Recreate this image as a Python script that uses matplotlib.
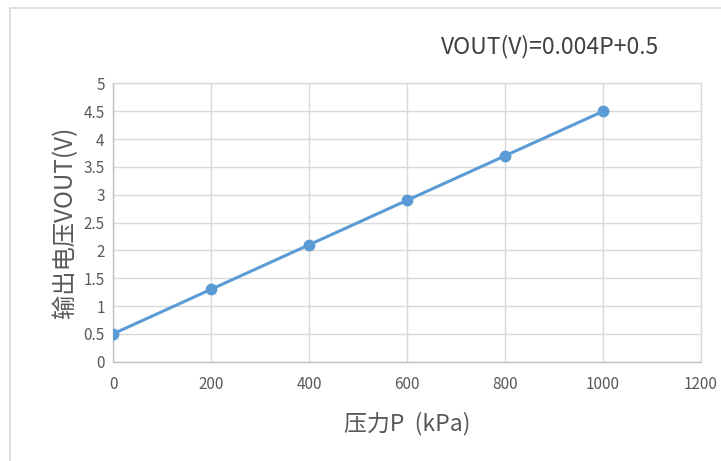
import matplotlib
matplotlib.use("Agg")
import matplotlib.pyplot as plt
from matplotlib.patches import Rectangle

plt.rcParams['font.family'] = ['Noto Sans CJK SC', 'DejaVu Sans']

# data
pressure = [0, 200, 400, 600, 800, 1000]
vout = [0.5, 1.3, 2.1, 2.9, 3.7, 4.5]
x_ticks = [0, 200, 400, 600, 800, 1000, 1200]
y_ticks = [0, 0.5, 1, 1.5, 2, 2.5, 3, 3.5, 4, 4.5, 5]
y_labels = ["0", "0.5", "1", "1.5", "2", "2.5", "3", "3.5", "4", "4.5", "5"]

text_col = "#595959"
grid_col = "#D9D9D9"
line_col = "#5B9BD5"

fig = plt.figure(figsize=(7.21, 4.61), dpi=100)
fig.patch.set_facecolor("white")

# chart frame (goes off the right and bottom edges)
fig.patches.append(Rectangle((10/721, -0.1), 1.2, 1 - 8/461 + 0.1,
                             transform=fig.transFigure, fill=False,
                             edgecolor=grid_col, linewidth=1.2))

ax = fig.add_axes([113/721, 1 - 361.7/461, (701 - 113)/721, (361.7 - 83.5)/461])
ax.plot(pressure, vout, color=line_col, linewidth=2.2, marker="o",
        markersize=7.5, zorder=3)

ax.set_xlim(0, 1200)
ax.set_ylim(0, 5)
ax.set_xticks(x_ticks)
ax.set_yticks(y_ticks)
ax.set_yticklabels(y_labels)
ax.tick_params(length=0, colors=text_col, labelsize=11)
ax.tick_params(axis="x", pad=10)
ax.tick_params(axis="y", pad=6)
ax.grid(True, color=grid_col, linewidth=1)
ax.set_axisbelow(True)
for s in ax.spines.values():
    s.set_color(grid_col)
    s.set_linewidth(1)
ax.spines["bottom"].set_color("#BFBFBF")
ax.spines["left"].set_color("#BFBFBF")

ax.set_xlabel("压力P  (kPa)", fontsize=16.5, color=text_col, labelpad=14)
ax.set_ylabel("输出电压VOUT(V)", fontsize=17.5, color=text_col, labelpad=4)

fig.text(550/721, 1 - 47/461, "VOUT(V)=0.004P+0.5", fontsize=16.5,
         color="#404040", ha="center", va="center")

fig.savefig("out.png", dpi=100)
